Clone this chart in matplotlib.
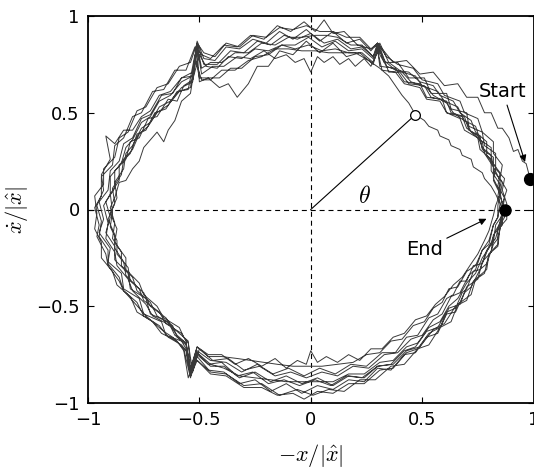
import numpy as np
import matplotlib.pyplot as plt

plt.rcParams['mathtext.fontset'] = 'cm'
plt.rcParams['font.family'] = ['DejaVu Sans']

# phase-plane trajectory (-x/|x^|, xdot/|x^|), one list per revolution
lap1 = [(0.985, 0.158), (0.967, 0.237), (0.95, 0.25), (0.93, 0.31), (0.91, 0.30), (0.89, 0.37),
        (0.86, 0.42), (0.84, 0.42), (0.81, 0.50), (0.78, 0.50), (0.75, 0.58), (0.70, 0.58),
        (0.66, 0.65), (0.60, 0.64), (0.55, 0.71), (0.49, 0.70), (0.43, 0.77), (0.37, 0.76),
        (0.30, 0.86), (0.28, 0.79), (0.23, 0.84), (0.18, 0.83), (0.12, 0.88), (0.06, 0.86),
        (0.00, 0.91), (-0.06, 0.88), (-0.12, 0.90), (-0.18, 0.85), (-0.24, 0.87), (-0.30, 0.81),
        (-0.36, 0.82), (-0.42, 0.75), (-0.48, 0.75), (-0.51, 0.86), (-0.53, 0.69), (-0.58, 0.68),
        (-0.62, 0.60), (-0.67, 0.59), (-0.72, 0.49), (-0.76, 0.47), (-0.80, 0.37), (-0.84, 0.34),
        (-0.86, 0.25), (-0.90, 0.20), (-0.91, 0.10), (-0.95, 0.04), (-0.93, -0.05), (-0.95, -0.12),
        (-0.90, -0.20), (-0.91, -0.27), (-0.85, -0.33), (-0.84, -0.41), (-0.77, -0.46), (-0.75, -0.54),
        (-0.67, -0.58), (-0.65, -0.65), (-0.58, -0.68), (-0.56, -0.72), (-0.54, -0.86), (-0.51, -0.74),
        (-0.46, -0.80), (-0.40, -0.79), (-0.33, -0.86), (-0.26, -0.84), (-0.19, -0.90), (-0.12, -0.88),
        (-0.05, -0.91), (0.02, -0.88), (0.09, -0.91), (0.16, -0.86), (0.23, -0.87), (0.30, -0.81),
        (0.37, -0.80), (0.43, -0.73), (0.49, -0.71), (0.55, -0.62), (0.60, -0.59), (0.65, -0.50),
        (0.70, -0.47), (0.73, -0.37), (0.78, -0.33), (0.80, -0.23), (0.84, -0.19), (0.85, -0.09),
        (0.88, -0.05), (0.88, 0.03)]
lap2 = [(0.88, 0.03), (0.86, 0.10), (0.87, 0.16), (0.83, 0.21), (0.83, 0.29), (0.78, 0.33),
        (0.77, 0.40), (0.71, 0.43), (0.70, 0.50), (0.63, 0.52), (0.61, 0.60), (0.54, 0.60),
        (0.51, 0.68), (0.44, 0.68), (0.39, 0.76), (0.33, 0.76), (0.30, 0.85), (0.27, 0.83),
        (0.21, 0.85), (0.15, 0.92), (0.10, 0.91), (0.06, 0.98), (0.02, 0.92), (-0.03, 0.97),
        (-0.09, 0.92), (-0.15, 0.95), (-0.21, 0.88), (-0.27, 0.90), (-0.33, 0.84), (-0.39, 0.85),
        (-0.45, 0.78), (-0.49, 0.80), (-0.52, 0.84), (-0.56, 0.72), (-0.61, 0.72), (-0.66, 0.62),
        (-0.71, 0.61), (-0.76, 0.50), (-0.80, 0.48), (-0.84, 0.37), (-0.88, 0.33), (-0.89, 0.23),
        (-0.94, 0.17), (-0.94, 0.07), (-0.97, 0.01), (-0.95, -0.08), (-0.96, -0.14), (-0.92, -0.23),
        (-0.91, -0.29), (-0.86, -0.37), (-0.84, -0.42), (-0.77, -0.51), (-0.74, -0.55), (-0.66, -0.63),
        (-0.62, -0.66), (-0.57, -0.72), (-0.54, -0.87), (-0.51, -0.76), (-0.45, -0.84), (-0.38, -0.85),
        (-0.30, -0.91), (-0.22, -0.90), (-0.14, -0.96), (-0.06, -0.93), (0.01, -0.96), (0.08, -0.93),
        (0.15, -0.94), (0.22, -0.88), (0.29, -0.88), (0.36, -0.81), (0.42, -0.80), (0.48, -0.72),
        (0.53, -0.70), (0.58, -0.61), (0.63, -0.58), (0.66, -0.49), (0.72, -0.44), (0.74, -0.36),
        (0.79, -0.31), (0.80, -0.23), (0.84, -0.18), (0.84, -0.10), (0.87, -0.04), (0.86, 0.02)]
lap3 = [(0.86, 0.02), (0.85, 0.09), (0.85, 0.15), (0.82, 0.22), (0.81, 0.28), (0.77, 0.32),
        (0.75, 0.38), (0.70, 0.42), (0.68, 0.48), (0.61, 0.50), (0.59, 0.57), (0.52, 0.58),
        (0.49, 0.65), (0.42, 0.66), (0.38, 0.73), (0.31, 0.74), (0.30, 0.83), (0.28, 0.75),
        (0.22, 0.81), (0.16, 0.79), (0.10, 0.86), (0.04, 0.81), (-0.02, 0.87), (-0.08, 0.80),
        (-0.14, 0.82), (-0.19, 0.74), (-0.24, 0.74), (-0.28, 0.65), (-0.33, 0.58), (-0.37, 0.65),
        (-0.41, 0.63), (-0.46, 0.68), (-0.50, 0.68), (-0.52, 0.80), (-0.55, 0.62), (-0.60, 0.61),
        (-0.65, 0.52), (-0.70, 0.50), (-0.74, 0.41), (-0.78, 0.39), (-0.81, 0.29), (-0.86, 0.23),
        (-0.86, 0.15), (-0.90, 0.08), (-0.89, -0.01), (-0.90, -0.09), (-0.87, -0.16), (-0.87, -0.23),
        (-0.82, -0.30), (-0.81, -0.37), (-0.75, -0.43), (-0.72, -0.50), (-0.65, -0.56), (-0.62, -0.61),
        (-0.57, -0.66), (-0.55, -0.69), (-0.53, -0.84), (-0.50, -0.72), (-0.44, -0.78), (-0.37, -0.77),
        (-0.30, -0.83), (-0.23, -0.81), (-0.16, -0.86), (-0.09, -0.84), (-0.02, -0.87), (0.05, -0.84),
        (0.12, -0.86), (0.19, -0.81), (0.26, -0.82), (0.33, -0.75), (0.39, -0.74), (0.45, -0.67),
        (0.50, -0.65), (0.55, -0.57), (0.59, -0.54), (0.63, -0.45), (0.67, -0.43), (0.71, -0.34),
        (0.74, -0.31), (0.77, -0.21), (0.80, -0.18), (0.82, -0.08), (0.84, -0.04), (0.84, 0.02)]
lap4 = [(0.84, 0.02), (0.85, 0.09), (0.82, 0.16), (0.82, 0.22), (0.78, 0.29), (0.77, 0.35),
        (0.72, 0.40), (0.70, 0.45), (0.64, 0.50), (0.61, 0.55), (0.55, 0.59), (0.52, 0.63),
        (0.45, 0.66), (0.41, 0.71), (0.34, 0.74), (0.31, 0.80), (0.30, 0.86), (0.27, 0.82),
        (0.22, 0.88), (0.16, 0.86), (0.10, 0.92), (0.04, 0.87), (-0.02, 0.93), (-0.08, 0.88),
        (-0.14, 0.92), (-0.20, 0.86), (-0.26, 0.88), (-0.32, 0.83), (-0.38, 0.84), (-0.43, 0.77),
        (-0.48, 0.78), (-0.51, 0.87), (-0.53, 0.71), (-0.58, 0.68), (-0.63, 0.61), (-0.68, 0.59),
        (-0.72, 0.51), (-0.76, 0.48), (-0.80, 0.41), (-0.84, 0.41), (-0.88, 0.34), (-0.92, 0.38),
        (-0.90, 0.26), (-0.94, 0.18), (-0.93, 0.10), (-0.96, 0.02), (-0.94, -0.06), (-0.95, -0.14),
        (-0.91, -0.21), (-0.91, -0.28), (-0.86, -0.35), (-0.84, -0.42), (-0.78, -0.48), (-0.75, -0.55),
        (-0.68, -0.60), (-0.64, -0.66), (-0.58, -0.70), (-0.56, -0.73), (-0.54, -0.86), (-0.51, -0.78),
        (-0.45, -0.85), (-0.38, -0.86), (-0.30, -0.92), (-0.22, -0.92), (-0.15, -0.96), (-0.08, -0.95),
        (-0.03, -0.98), (0.03, -0.94), (0.10, -0.95), (0.17, -0.90), (0.24, -0.90), (0.31, -0.83),
        (0.37, -0.82), (0.43, -0.74), (0.48, -0.72), (0.53, -0.64), (0.58, -0.61), (0.62, -0.51),
        (0.67, -0.49), (0.70, -0.40), (0.75, -0.36), (0.77, -0.27), (0.81, -0.22), (0.82, -0.13),
        (0.86, -0.08), (0.86, 0.00)]
lap5 = [(0.86, 0.00), (0.84, 0.07), (0.85, 0.13), (0.81, 0.20), (0.81, 0.26), (0.76, 0.31),
        (0.75, 0.37), (0.69, 0.41), (0.67, 0.47), (0.61, 0.50), (0.58, 0.56), (0.52, 0.57),
        (0.49, 0.63), (0.42, 0.65), (0.38, 0.71), (0.32, 0.72), (0.30, 0.82), (0.27, 0.74),
        (0.24, 0.78), (0.20, 0.74), (0.17, 0.78), (0.13, 0.75), (0.10, 0.79), (0.06, 0.76),
        (0.03, 0.79), (0.00, 0.71), (-0.03, 0.78), (-0.07, 0.76), (-0.11, 0.80), (-0.16, 0.78),
        (-0.21, 0.82), (-0.27, 0.78), (-0.33, 0.79), (-0.39, 0.74), (-0.44, 0.74), (-0.49, 0.70),
        (-0.51, 0.84), (-0.53, 0.66), (-0.58, 0.63), (-0.63, 0.56), (-0.68, 0.53), (-0.72, 0.45),
        (-0.76, 0.42), (-0.80, 0.33), (-0.83, 0.29), (-0.84, 0.21), (-0.88, 0.14), (-0.87, 0.06),
        (-0.90, -0.02), (-0.87, -0.10), (-0.88, -0.17), (-0.83, -0.25), (-0.83, -0.31), (-0.77, -0.38),
        (-0.75, -0.44), (-0.69, -0.50), (-0.66, -0.56), (-0.59, -0.61), (-0.57, -0.66), (-0.55, -0.68),
        (-0.54, -0.82), (-0.51, -0.71), (-0.46, -0.75), (-0.40, -0.75), (-0.34, -0.80), (-0.28, -0.77),
        (-0.22, -0.81), (-0.16, -0.77), (-0.11, -0.82), (-0.06, -0.78), (-0.02, -0.80), (0.00, -0.73),
        (0.03, -0.79), (0.07, -0.76), (0.12, -0.79), (0.17, -0.75), (0.22, -0.78), (0.27, -0.72),
        (0.32, -0.72), (0.37, -0.66), (0.42, -0.64), (0.47, -0.57), (0.52, -0.55), (0.56, -0.49),
        (0.60, -0.45), (0.64, -0.39), (0.68, -0.35), (0.72, -0.28), (0.75, -0.23), (0.78, -0.16),
        (0.80, -0.11), (0.82, -0.03), (0.83, 0.02)]
lap6 = [(0.83, 0.02), (0.85, 0.08), (0.82, 0.15), (0.83, 0.22), (0.79, 0.28), (0.79, 0.35),
        (0.74, 0.40), (0.72, 0.46), (0.67, 0.50), (0.64, 0.56), (0.58, 0.59), (0.55, 0.64),
        (0.49, 0.66), (0.44, 0.71), (0.38, 0.72), (0.33, 0.77), (0.30, 0.85), (0.28, 0.78),
        (0.23, 0.83), (0.17, 0.82), (0.11, 0.87), (0.05, 0.84), (-0.01, 0.89), (-0.07, 0.85),
        (-0.13, 0.85), (-0.19, 0.80), (-0.25, 0.79), (-0.31, 0.73), (-0.36, 0.73), (-0.41, 0.68),
        (-0.46, 0.68), (-0.50, 0.66), (-0.51, 0.82), (-0.54, 0.60), (-0.58, 0.56), (-0.61, 0.46),
        (-0.64, 0.41), (-0.66, 0.35), (-0.69, 0.40), (-0.72, 0.36), (-0.75, 0.32), (-0.77, 0.25),
        (-0.80, 0.21), (-0.83, 0.15), (-0.86, 0.14), (-0.88, 0.06), (-0.90, 0.01), (-0.88, -0.07),
        (-0.89, -0.15), (-0.85, -0.22), (-0.85, -0.29), (-0.80, -0.35), (-0.78, -0.42), (-0.72, -0.48),
        (-0.69, -0.55), (-0.62, -0.60), (-0.60, -0.66), (-0.56, -0.70), (-0.54, -0.85), (-0.51, -0.75),
        (-0.45, -0.81), (-0.39, -0.81), (-0.32, -0.87), (-0.25, -0.84), (-0.18, -0.89), (-0.11, -0.86),
        (-0.04, -0.90), (0.03, -0.87), (0.10, -0.91), (0.17, -0.86), (0.24, -0.87), (0.30, -0.81),
        (0.36, -0.80), (0.42, -0.73), (0.47, -0.71), (0.52, -0.63), (0.57, -0.61), (0.61, -0.53),
        (0.65, -0.51), (0.68, -0.43), (0.70, -0.41), (0.73, -0.32), (0.76, -0.31), (0.79, -0.21),
        (0.82, -0.17), (0.83, -0.08), (0.86, -0.03), (0.86, 0.03)]
lap7 = [(0.86, 0.03), (0.88, 0.10), (0.85, 0.16), (0.86, 0.23), (0.82, 0.29), (0.82, 0.35),
        (0.77, 0.40), (0.75, 0.47), (0.69, 0.50), (0.67, 0.56), (0.60, 0.59), (0.57, 0.65),
        (0.50, 0.67), (0.46, 0.73), (0.39, 0.75), (0.34, 0.79), (0.30, 0.86), (0.27, 0.83),
        (0.22, 0.89), (0.16, 0.89), (0.10, 0.92), (0.04, 0.92), (-0.02, 0.95), (-0.08, 0.93),
        (-0.14, 0.94), (-0.20, 0.89), (-0.26, 0.90), (-0.32, 0.84), (-0.38, 0.86), (-0.43, 0.79),
        (-0.48, 0.81), (-0.51, 0.86), (-0.54, 0.76), (-0.59, 0.74), (-0.64, 0.65), (-0.69, 0.63),
        (-0.74, 0.53), (-0.78, 0.51), (-0.82, 0.40), (-0.86, 0.37), (-0.88, 0.27), (-0.93, 0.21),
        (-0.93, 0.13), (-0.97, 0.07), (-0.96, -0.02), (-0.97, -0.10), (-0.94, -0.17), (-0.94, -0.25),
        (-0.89, -0.32), (-0.87, -0.39), (-0.81, -0.45), (-0.78, -0.53), (-0.71, -0.58), (-0.67, -0.64),
        (-0.60, -0.68), (-0.57, -0.73), (-0.55, -0.87), (-0.52, -0.77), (-0.46, -0.83), (-0.39, -0.84),
        (-0.32, -0.90), (-0.25, -0.88), (-0.18, -0.94), (-0.11, -0.90), (-0.04, -0.95), (0.03, -0.91),
        (0.10, -0.93), (0.17, -0.88), (0.24, -0.89), (0.30, -0.82), (0.36, -0.83), (0.42, -0.75),
        (0.47, -0.74), (0.52, -0.66), (0.57, -0.64), (0.61, -0.54), (0.65, -0.53), (0.69, -0.43),
        (0.72, -0.40), (0.76, -0.31), (0.79, -0.28), (0.82, -0.18), (0.84, -0.15), (0.86, -0.05),
        (0.87, 0.00)]
lap8 = [(0.87, 0.00), (0.85, 0.07), (0.86, 0.14), (0.82, 0.20), (0.82, 0.27), (0.77, 0.31),
        (0.76, 0.38), (0.71, 0.41), (0.69, 0.48), (0.63, 0.50), (0.61, 0.56), (0.54, 0.58),
        (0.51, 0.64), (0.44, 0.65), (0.40, 0.71), (0.35, 0.71), (0.31, 0.84), (0.28, 0.76),
        (0.23, 0.81), (0.17, 0.81), (0.11, 0.83), (0.05, 0.82), (-0.01, 0.85), (-0.07, 0.83),
        (-0.13, 0.85), (-0.19, 0.82), (-0.25, 0.83), (-0.31, 0.78), (-0.37, 0.79), (-0.42, 0.73),
        (-0.47, 0.74), (-0.50, 0.80), (-0.53, 0.67), (-0.57, 0.64), (-0.60, 0.56), (-0.64, 0.57),
        (-0.69, 0.48), (-0.73, 0.47), (-0.77, 0.37), (-0.81, 0.35), (-0.83, 0.26), (-0.88, 0.20),
        (-0.88, 0.11), (-0.92, 0.04), (-0.90, -0.04), (-0.92, -0.12), (-0.88, -0.19), (-0.88, -0.26),
        (-0.82, -0.33), (-0.81, -0.41), (-0.74, -0.46), (-0.72, -0.54), (-0.64, -0.58), (-0.61, -0.65),
        (-0.56, -0.69), (-0.54, -0.84), (-0.51, -0.73), (-0.45, -0.78), (-0.38, -0.79), (-0.31, -0.84),
        (-0.24, -0.80), (-0.17, -0.85), (-0.10, -0.82), (-0.03, -0.86), (0.04, -0.82), (0.11, -0.85),
        (0.18, -0.80), (0.25, -0.81), (0.32, -0.74), (0.38, -0.74), (0.43, -0.66), (0.48, -0.65),
        (0.53, -0.56), (0.57, -0.54), (0.61, -0.46), (0.64, -0.44), (0.67, -0.37), (0.70, -0.37),
        (0.73, -0.29), (0.77, -0.28), (0.80, -0.19), (0.83, -0.15), (0.85, -0.06), (0.86, -0.01)]
lap9 = [(0.86, -0.01), (0.87, 0.06), (0.84, 0.12), (0.85, 0.19), (0.81, 0.25), (0.81, 0.32),
        (0.76, 0.36), (0.74, 0.43), (0.69, 0.46), (0.66, 0.53), (0.60, 0.56), (0.57, 0.61),
        (0.50, 0.64), (0.47, 0.69), (0.41, 0.71), (0.35, 0.76), (0.31, 0.86), (0.28, 0.79),
        (0.23, 0.85), (0.18, 0.85), (0.12, 0.89), (0.07, 0.90), (0.02, 0.90), (-0.04, 0.89),
        (-0.10, 0.89), (-0.16, 0.85), (-0.22, 0.86), (-0.28, 0.81), (-0.34, 0.81), (-0.40, 0.76),
        (-0.45, 0.76), (-0.49, 0.73), (-0.51, 0.85), (-0.53, 0.69), (-0.58, 0.66), (-0.63, 0.59),
        (-0.68, 0.56), (-0.72, 0.48), (-0.76, 0.45), (-0.80, 0.36), (-0.83, 0.32), (-0.85, 0.24),
        (-0.90, 0.17), (-0.90, 0.08), (-0.93, 0.02), (-0.91, -0.07), (-0.92, -0.15), (-0.88, -0.22),
        (-0.87, -0.29), (-0.82, -0.36), (-0.80, -0.42), (-0.74, -0.49), (-0.71, -0.55), (-0.63, -0.60),
        (-0.60, -0.65), (-0.56, -0.69), (-0.54, -0.83), (-0.51, -0.71), (-0.46, -0.76), (-0.40, -0.76),
        (-0.33, -0.77), (-0.27, -0.78), (-0.21, -0.79), (-0.15, -0.80), (-0.08, -0.81), (-0.02, -0.81),
        (0.05, -0.81), (0.12, -0.80), (0.19, -0.79), (0.25, -0.75), (0.31, -0.74), (0.36, -0.68),
        (0.41, -0.67), (0.46, -0.60), (0.51, -0.58), (0.55, -0.51), (0.59, -0.48), (0.62, -0.41),
        (0.66, -0.40), (0.70, -0.32), (0.74, -0.29), (0.77, -0.21), (0.80, -0.16), (0.82, -0.08),
        (0.84, -0.04), (0.85, 0.03)]
lap10 = [(0.85, 0.03), (0.83, 0.08), (0.81, 0.12), (0.78, 0.16), (0.77, 0.19), (0.73, 0.22),
         (0.72, 0.26), (0.68, 0.28), (0.67, 0.31), (0.63, 0.33), (0.62, 0.36), (0.58, 0.38),
         (0.57, 0.41), (0.53, 0.43), (0.51, 0.46), (0.47, 0.49), (0.44, 0.55), (0.41, 0.59),
         (0.38, 0.64), (0.35, 0.69), (0.31, 0.73), (0.26, 0.77), (0.20, 0.81), (0.14, 0.81),
         (0.08, 0.81), (0.02, 0.82), (-0.04, 0.82), (-0.10, 0.83), (-0.16, 0.83), (-0.22, 0.79),
         (-0.28, 0.77), (-0.34, 0.72), (-0.40, 0.72), (-0.45, 0.67), (-0.49, 0.67), (-0.52, 0.78),
         (-0.54, 0.63), (-0.59, 0.61), (-0.64, 0.54), (-0.69, 0.50), (-0.73, 0.43), (-0.77, 0.39),
         (-0.80, 0.31), (-0.84, 0.26), (-0.85, 0.18), (-0.89, 0.11), (-0.88, 0.03), (-0.91, -0.05),
         (-0.88, -0.13), (-0.88, -0.20), (-0.84, -0.27), (-0.83, -0.34), (-0.77, -0.41), (-0.75, -0.47),
         (-0.68, -0.53), (-0.65, -0.59), (-0.58, -0.64), (-0.56, -0.68), (-0.54, -0.85), (-0.51, -0.74),
         (-0.45, -0.80), (-0.39, -0.82), (-0.32, -0.86), (-0.25, -0.87), (-0.18, -0.88), (-0.11, -0.89),
         (-0.04, -0.89), (0.03, -0.89), (0.10, -0.89), (0.17, -0.85), (0.24, -0.85), (0.31, -0.79),
         (0.37, -0.78), (0.43, -0.71), (0.48, -0.69), (0.53, -0.61), (0.58, -0.58), (0.62, -0.50),
         (0.66, -0.46), (0.70, -0.38), (0.74, -0.33), (0.77, -0.25), (0.80, -0.20), (0.83, -0.11),
         (0.85, -0.07), (0.87, 0.00)]
laps = [lap1, lap2, lap3, lap4, lap5, lap6, lap7, lap8, lap9, lap10]

start_pt = (0.985, 0.158)
end_pt = (0.87, 0.0)
phase_pt = (0.47, 0.49)   # state point used for the angle theta

ticks = [-1, -0.5, 0, 0.5, 1]
tick_labels = ['\u22121', '\u22120.5', '0', '0.5', '1']

fig = plt.figure(figsize=(5.34, 4.70), dpi=100)
ax = fig.add_axes([88 / 534, 67 / 470, 445.5 / 534, 387 / 470])

# dashed axes through the origin
ax.axhline(0, color='k', lw=0.8, ls=(0, (4.5, 3.5)), zorder=1)
ax.axvline(0, color='k', lw=0.8, ls=(0, (4.5, 3.5)), zorder=1)

traj = np.vstack([np.array(l) for l in laps])
ax.plot(traj[:, 0], traj[:, 1], color='#3a3a3a', lw=0.7, zorder=2)

# radius to the state point and the angle label
ax.plot([0, phase_pt[0]], [0, phase_pt[1]], color='k', lw=0.8, zorder=3)
ax.plot(phase_pt[0], phase_pt[1], 'o', mfc='white', mec='k', ms=7, mew=0.9, zorder=4)
ax.text(0.24, 0.07, r'$\theta$', fontsize=17, ha='center', va='center')

ax.plot(start_pt[0], start_pt[1], 'o', color='k', ms=8.5, clip_on=False, zorder=5)
ax.plot(end_pt[0], end_pt[1], 'o', color='k', ms=8, zorder=5)

arrow = dict(arrowstyle='-|>', color='k', lw=0.8, mutation_scale=10, shrinkA=1, shrinkB=0)
ax.annotate('Start', xy=(0.962, 0.245), xytext=(0.862, 0.61),
            fontsize=14, ha='center', va='center', arrowprops=arrow)
ax.annotate('End', xy=(0.789, -0.048), xytext=(0.51, -0.205),
            fontsize=14, ha='center', va='center', arrowprops=arrow)

ax.set_xlim(-1, 1)
ax.set_ylim(-1, 1)
ax.set_xticks(ticks)
ax.set_yticks(ticks)
ax.set_xticklabels(tick_labels, fontsize=13)
ax.set_yticklabels(tick_labels, fontsize=13)
ax.tick_params(direction='in', length=4, width=0.8, top=True, right=True, pad=6)
for s in ax.spines.values():
    s.set_linewidth(1.3)

ax.set_xlabel(r'$-x/|\hat{x}|$', fontsize=16, labelpad=9)
ax.set_ylabel(r'$\dot{x}/|\hat{x}|$', fontsize=16, labelpad=4)

fig.savefig('out.png', dpi=100)
